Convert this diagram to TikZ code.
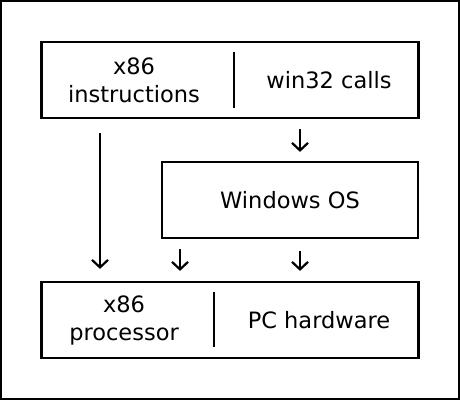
\documentclass[tikz,border=0pt]{standalone}
\usepackage{fontspec}
\setmainfont{DejaVu Sans}
\usetikzlibrary{arrows.meta}

\begin{document}
\begin{tikzpicture}[x=1pt, y=1pt, line width=2.2pt,
  box/.style={draw, minimum height=76pt, inner sep=0pt},
  txt/.style={align=center, font=\fontsize{22.5}{28}\selectfont},
  arr/.style={-{Straight Barb[length=7.5pt,width=16pt]}}]
\useasboundingbox (0,0) rectangle (460,400);
\draw (1,1) rectangle (459,399);

\node [box, minimum width=377pt] (top) at (230,320) {};
\node [box, minimum width=256pt] (os) at (290,200) {};
\node [box, minimum width=377pt] (hw) at (230,80) {};

\node [txt] (ins) at (134,320) {x86\\instructions};
\node [txt] (calls) at (329,320) {win32 calls};
\node [txt] (win) at (290,200) {Windows OS};
\node [txt] (proc) at (124,80) {x86\\processor};
\node [txt] (pchw) at (319,80) {PC hardware};

\draw ([xshift=4pt,yshift=11pt]top.south) -- ([xshift=4pt,yshift=-11pt]top.north);
\draw ([xshift=-16pt,yshift=12pt]hw.south) -- ([xshift=-16pt,yshift=-11pt]hw.north);

\draw [arr, shorten <=10pt, shorten >=9pt] ([xshift=70pt]top.south) -- ([xshift=10pt]os.north);
\draw [arr, shorten <=14pt, shorten >=12pt] ([xshift=-130pt]top.south) -- ([xshift=-130pt]hw.north);
\draw [arr, shorten <=10pt, shorten >=10pt] ([xshift=-110pt]os.south) -- ([xshift=-50pt]hw.north);
\draw [arr, shorten <=12pt, shorten >=10pt] ([xshift=10pt]os.south) -- ([xshift=70pt]hw.north);

\end{tikzpicture}
\end{document}
